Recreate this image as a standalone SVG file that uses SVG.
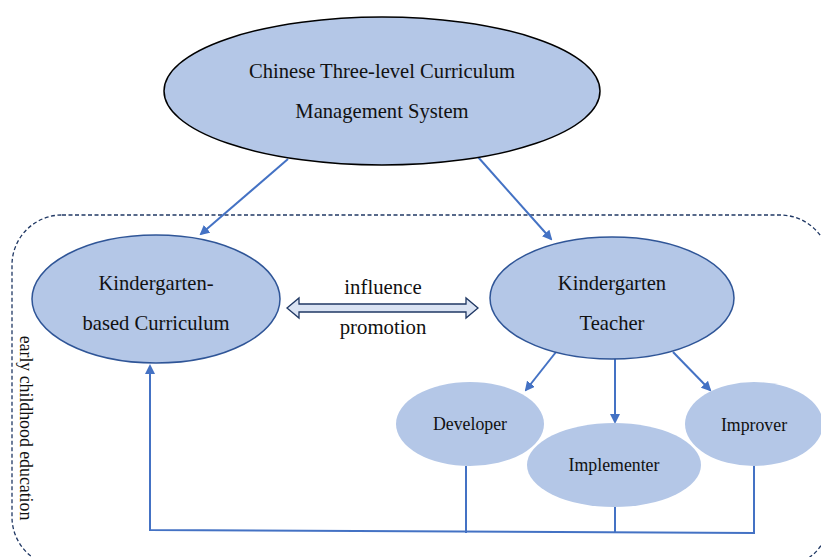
<svg xmlns="http://www.w3.org/2000/svg" width="821" height="557" viewBox="0 0 821 557">
<style>
  text { font-family: "Liberation Serif", "Times New Roman", serif; fill: #111; }
  .big { font-size: 20.6px; text-anchor: middle; }
  .mid { font-size: 20.8px; text-anchor: middle; }
  .small { font-size: 17.8px; text-anchor: middle; }
  .conn { stroke: #4472c4; stroke-width: 2; fill: none; }
  .main { fill: #b4c7e7; stroke: #2f5597; stroke-width: 1.5; }
  .sub { fill: #b4c7e7; stroke: none; }
</style>
<defs>
  <marker id="ah" markerWidth="10" markerHeight="10" refX="8" refY="5" orient="auto" markerUnits="userSpaceOnUse">
    <path d="M0,0 L10,5 L0,10 Z" fill="#4472c4"/>
  </marker>
</defs>
<rect width="821" height="557" fill="#fff"/>
<g id="boundary">
  <rect x="12" y="215" width="818" height="352" rx="50" ry="50" fill="none" stroke="#203864" stroke-width="1.3" stroke-dasharray="4,2.5"/>
  <text transform="translate(20,428) rotate(90)" font-size="17.8" text-anchor="middle">early childhood education</text>
</g>
<g id="connectors">
  <line class="conn" x1="288" y1="159" x2="201" y2="234" marker-end="url(#ah)"/>
  <line class="conn" x1="478" y1="157" x2="551" y2="239" marker-end="url(#ah)"/>
  <line class="conn" x1="556" y1="352" x2="526" y2="390" marker-end="url(#ah)"/>
  <line class="conn" x1="615" y1="358" x2="615" y2="422" marker-end="url(#ah)"/>
  <line class="conn" x1="673" y1="352" x2="710" y2="390" marker-end="url(#ah)"/>
  <polyline class="conn" points="466,466 466,533"/>
  <polyline class="conn" points="615,507 615,533"/>
  <polyline class="conn" points="754,466 754,533 150,530 150,366" marker-end="url(#ah)"/>
  <path d="M287,308 L299,298 L299,304 L466,304 L466,298 L478,308 L466,318 L466,312 L299,312 L299,318 Z" fill="#dae3f3" stroke="#203864" stroke-width="1.3" stroke-linejoin="miter"/>
  <text class="mid" x="383" y="294">influence</text>
  <text class="mid" x="383" y="334">promotion</text>
</g>
<g id="system">
  <ellipse cx="382" cy="91" rx="218" ry="74" fill="#b4c7e7" stroke="#000" stroke-width="1.5"/>
  <text class="big" x="382" y="78">Chinese Three-level Curriculum</text>
  <text class="big" x="382" y="118">Management System</text>
</g>
<g id="curriculum">
  <ellipse class="main" cx="156" cy="299" rx="124" ry="64"/>
  <text class="big" x="156" y="290">Kindergarten-</text>
  <text class="big" x="156" y="330">based Curriculum</text>
</g>
<g id="teacher">
  <ellipse class="main" cx="612" cy="298" rx="122" ry="61"/>
  <text class="big" x="612" y="290">Kindergarten</text>
  <text class="big" x="612" y="330">Teacher</text>
</g>
<g id="developer">
  <ellipse class="sub" cx="470" cy="424" rx="74" ry="42"/>
  <text class="small" x="470" y="430">Developer</text>
</g>
<g id="implementer">
  <ellipse class="sub" cx="614" cy="465" rx="87" ry="42"/>
  <text class="small" x="614" y="471">Implementer</text>
</g>
<g id="improver">
  <ellipse class="sub" cx="754" cy="424" rx="69" ry="42"/>
  <text class="small" x="754" y="431">Improver</text>
</g>
</svg>
